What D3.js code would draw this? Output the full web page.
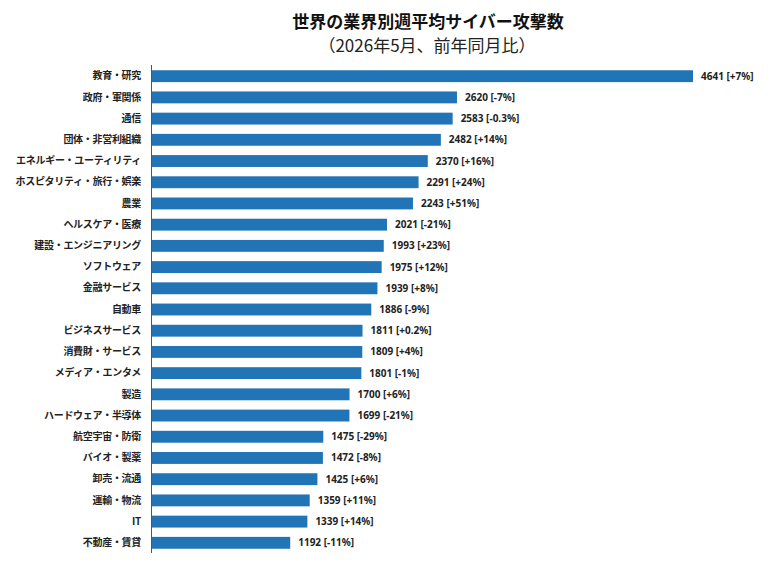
<!DOCTYPE html>
<html><head><meta charset="utf-8">
<script src="https://cdn.jsdelivr.net/npm/d3@7"></script>
<style>
html,body{margin:0;padding:0;background:#fff;}
svg{display:block;font-family:"Noto Sans CJK JP","Noto Sans",sans-serif;}
</style></head>
<body><svg id="chart" width="780" height="581"></svg>
<script>
const categories = ["教育・研究","政府・軍関係","通信","団体・非営利組織","エネルギー・ユーティリティ","ホスピタリティ・旅行・娯楽","農業","ヘルスケア・医療","建設・エンジニアリング","ソフトウェア","金融サービス","自動車","ビジネスサービス","消費財・サービス","メディア・エンタメ","製造","ハードウェア・半導体","航空宇宙・防衛","バイオ・製薬","卸売・流通","運輸・物流","IT","不動産・賃貸"];
const values = [4641,2620,2583,2482,2370,2291,2243,2021,1993,1975,1939,1886,1811,1809,1801,1700,1699,1475,1472,1425,1359,1339,1192];
const changes = ["+7%","-7%","-0.3%","+14%","+16%","+24%","+51%","-21%","+23%","+12%","+8%","-9%","+0.2%","+4%","-1%","+6%","-21%","-29%","-8%","+6%","+11%","+14%","-11%"];
const titleText = "世界の業界別週平均サイバー攻撃数";
const subtitleText = "（2026年5月、前年同月比）";

const svg = d3.select("#chart");
const data = categories.map((c,i)=>({cat:c, v:values[i], ch:changes[i]}));

const x = d3.scaleLinear().domain([0, d3.max(values)]).range([151, 693]);
const y = d3.scaleBand().domain(categories).range([66, 553]).paddingInner(0.44).paddingOuter(0.2);

svg.append("text").attr("x",428).attr("y",28).attr("text-anchor","middle")
  .attr("font-size",17).attr("font-weight",700).attr("fill","#111").text(titleText);
svg.append("text").attr("x",427).attr("y",52).attr("text-anchor","middle")
  .attr("font-size",17).attr("font-weight",400).attr("fill","#222").text(subtitleText);

svg.append("g").selectAll("rect").data(data).join("rect")
  .attr("x", x(0)+1).attr("y", d=>y(d.cat))
  .attr("width", d=>x(d.v)-x(0)-1).attr("height", y.bandwidth())
  .attr("fill","#2174b5");

const yAxis = d3.axisLeft(y).tickSize(0).tickPadding(10);
const gy = svg.append("g").attr("transform",`translate(${x(0)},0)`).call(yAxis);
gy.select(".domain").attr("stroke","#555").attr("stroke-width",1).attr("d","M0.5,65V553");
gy.selectAll("text").attr("font-size",10).attr("font-weight",700).attr("fill","#222")
  .attr("letter-spacing","-0.3px")
  .attr("font-family",'"Noto Sans CJK JP",sans-serif');

svg.append("g").selectAll("text").data(data).join("text")
  .attr("x", d=>x(d.v)+8).attr("y", d=>y(d.cat)+y.bandwidth()/2)
  .attr("dy","0.35em").attr("font-size",10).attr("font-weight",700).attr("fill","#222")
  .attr("font-family",'"Noto Sans","Noto Sans CJK JP",sans-serif')
  .text(d=>`${d.v} [${d.ch}]`);
</script></body></html>
